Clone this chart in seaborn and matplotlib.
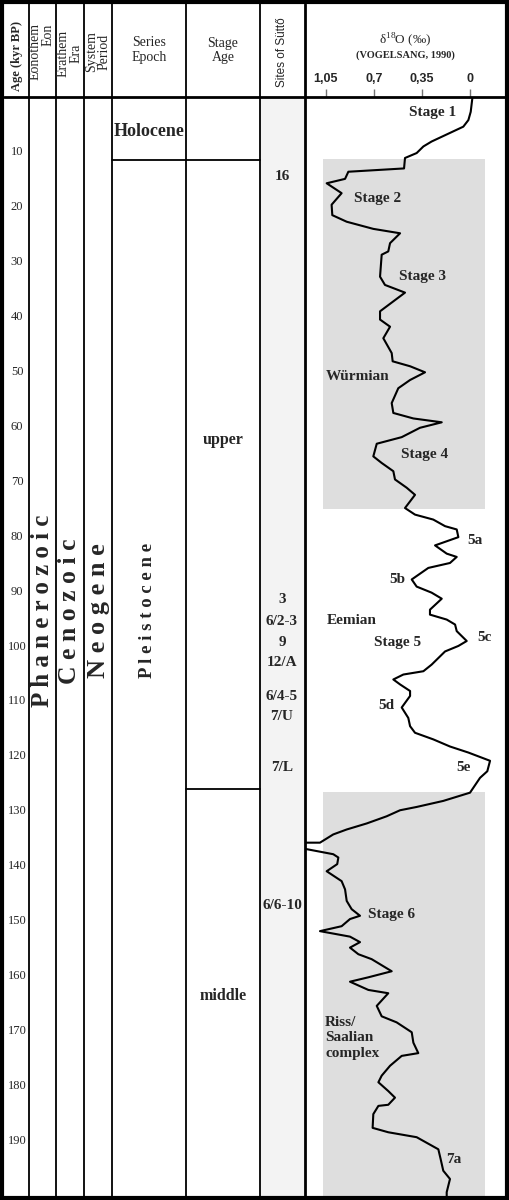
import matplotlib
matplotlib.use("Agg")
import matplotlib.pyplot as plt
import seaborn as sns
import pandas as pd

# --- data -------------------------------------------------------------
# oxygen isotope curve (Vogelsang 1990), age in kyr BP vs d18O (permil)
age_kyr = [0.2, 2.7, 4.2, 5.4, 6.1, 7.1, 8.1, 9.0, 10.2, 11.1, 13.0, 13.6, 14.9, 15.7,
           17.5, 19.6, 21.5, 22.7, 24.0, 24.8, 26.6, 28.1, 28.7, 32.7, 34.2, 35.6, 39.0,
           40.5, 41.8, 43.9, 46.6, 48.1, 49.0, 50.1, 51.5, 53.0, 55.7, 57.5, 58.5, 59.2,
           60.2, 61.9, 63.1, 65.4, 66.6, 68.1, 69.6, 71.1, 72.4, 73.6, 74.8, 76.0, 76.9,
           78.1, 78.7, 80.1, 81.6, 83.1, 83.7, 84.8, 85.7, 87.8, 89.1, 90.2, 91.3, 93.3,
           94.2, 95.1, 96.0, 97.2, 99.0, 99.9, 100.9, 103.3, 104.5, 105.1, 106.0, 106.9,
           108.1, 109.0, 111.1, 113.0, 114.5, 115.7, 116.9, 118.2, 119.3, 120.8, 122.7,
           123.9, 126.6, 128.1, 129.2, 129.8, 130.9, 132.2, 133.3, 134.2, 135.7, 135.7,
           136.6, 137.8, 138.4, 139.6, 140.9, 142.7, 144.2, 146.3, 147.8, 149.0, 149.6,
           150.9, 151.8, 152.8, 153.8, 154.8, 156.0, 156.9, 159.1, 160.2, 161.0, 162.5,
           163.1, 165.4, 167.3, 168.4, 170.2, 172.1, 174.0, 174.5, 176.3, 178.1, 179.3,
           180.9, 182.1, 183.4, 183.6, 185.1, 187.6, 188.4, 189.3, 191.5, 193.3, 195.4,
           196.9, 199.3, 200.5]
d18o = [-0.017, -0.005, 0.012, 0.049, 0.109, 0.195, 0.28, 0.34, 0.389, 0.474, 0.481, 0.887,
        0.911, 1.045, 0.936, 1.009, 1.004, 0.899, 0.705, 0.51, 0.583, 0.596, 0.644, 0.656,
        0.62, 0.474, 0.656, 0.656, 0.583, 0.632, 0.571, 0.564, 0.437, 0.328, 0.437, 0.523,
        0.571, 0.559, 0.413, 0.206, 0.365, 0.498, 0.68, 0.705, 0.644, 0.559, 0.547, 0.462,
        0.401, 0.437, 0.474, 0.401, 0.268, 0.182, 0.097, 0.085, 0.255, 0.17, 0.097, 0.146,
        0.304, 0.425, 0.389, 0.28, 0.206, 0.292, 0.292, 0.17, 0.109, 0.097, 0.024, 0.085,
        0.182, 0.28, 0.34, 0.486, 0.559, 0.51, 0.437, 0.437, 0.498, 0.45, 0.437, 0.401,
        0.268, 0.146, 0.012, -0.146, -0.126, -0.073, 0.0, 0.195, 0.389, 0.51, 0.608, 0.753,
        0.899, 0.997, 1.094, 1.25, 1.25, 0.997, 0.96, 0.968, 1.045, 0.936, 0.911, 0.899,
        0.863, 0.802, 0.875, 0.936, 1.094, 0.875, 0.802, 0.875, 0.814, 0.717, 0.571, 0.741,
        0.875, 0.741, 0.596, 0.68, 0.644, 0.535, 0.425, 0.413, 0.377, 0.498, 0.583, 0.644,
        0.668, 0.596, 0.547, 0.596, 0.668, 0.705, 0.71, 0.596, 0.389, 0.231, 0.214, 0.195,
        0.146, 0.17, 0.17]

d18o_ticks = [1.05, 0.7, 0.35, 0]
d18o_tick_labels = ["1,05", "0,7", "0,35", "0"]
age_ticks = [10, 20, 30, 40, 50, 60, 70, 80, 90, 100, 110, 120, 130, 140, 150, 160, 170, 180, 190]

glacial_spans = [(11.3, 75.0), (126.4, 200.0)]
holocene_base = 11.5
upper_middle_boundary = 126.0

curve_labels = ["Stage 1", "Stage 2", "Stage 3", "Würmian", "Stage 4", "5a", "5b", "Eemian",
                "Stage 5", "5c", "5d", "5e", "Stage 6", "7a"]
curve_label_d18o = [0.27, 0.671, 0.343, 0.817, 0.328, -0.036, 0.532, 0.86, 0.525, -0.102,
                    0.613, 0.044, 0.569, 0.117]
curve_label_age = [2.9, 18.4, 32.7, 50.9, 65.1, 80.7, 87.8, 95.3, 99.2, 98.4, 110.8, 122.1,
                   148.8, 193.3]

sites = ["16", "3", "6/2-3", "9", "12/A", "6/4-5", "7/U", "7/L", "6/6-10"]
site_age = [14.5, 91.5, 95.5, 99.3, 102.9, 109.1, 112.7, 122.0, 147.1]

df = pd.DataFrame({"age": age_kyr, "d18o": d18o})

# --- figure -----------------------------------------------------------
sns.set_theme(style="white")
plt.rcParams["font.family"] = ["Liberation Serif", "DejaVu Serif"]
plt.rcParams["mathtext.fontset"] = "custom"
plt.rcParams["mathtext.rm"] = "Liberation Serif"

W, H = 509, 1200
TOP, BOT = 97, 1196
fig = plt.figure(figsize=(W / 100, H / 100), dpi=100)


def box(x0, y0, x1, y1):
    return [x0 / W, 1 - y1 / H, (x1 - x0) / W, (y1 - y0) / H]


# table body: x in pixels, y in kyr
tab = fig.add_axes(box(4, TOP, 305, BOT))
tab.set_xlim(4, 305)
tab.set_ylim(200, 0)
tab.axis("off")
tab.axvspan(260, 305, color="#f3f3f3", lw=0, zorder=0)

for a in age_ticks:
    tab.text(17, a, str(a), ha="center", va="center", fontsize=9)

tab.plot([112, 260], [holocene_base, holocene_base], color="black", lw=1.3)
tab.plot([186, 260], [upper_middle_boundary, upper_middle_boundary], color="black", lw=1.3)

tab.text(149, 6.2, "Holocene", ha="center", va="center", fontsize=13, fontweight="bold")
mid = 93.5
tab.text(43, mid, "P h a n e r o z o i c", rotation=90, ha="center", va="center",
         fontsize=18, fontweight="bold")
tab.text(70, mid, "C e n o z o i c", rotation=90, ha="center", va="center",
         fontsize=18.5, fontweight="bold")
tab.text(98, mid, "N e o g e n e", rotation=90, ha="center", va="center",
         fontsize=19, fontweight="bold")
tab.text(148, mid, "P l e i s t o c e n e", rotation=90, ha="center", va="center",
         fontsize=13.5, fontweight="bold")
tab.text(223, 62.4, "upper", ha="center", va="center", fontsize=11.5, fontweight="bold")
tab.text(223, 163.6, "middle", ha="center", va="center", fontsize=11.5, fontweight="bold")
for s, a in zip(sites, site_age):
    tab.text(282, a, s, ha="center", va="center", fontsize=11, fontweight="bold")

# isotope curve
ax = fig.add_axes(box(305, TOP, 505, BOT))
for a0, a1 in glacial_spans:
    ax.fill_betweenx([a0, a1], -0.109, 1.072, color="#dedede", lw=0, zorder=0)
sns.lineplot(data=df, x="d18o", y="age", sort=False, estimator=None, orient="y",
             color="black", lw=1.5, ax=ax)
ax.set_xlim(1.203, -0.255)
ax.set_ylim(200, 0)
ax.set_xlabel("")
ax.set_ylabel("")
ax.set_yticks([])
for sp in ax.spines.values():
    sp.set_visible(False)
ax.xaxis.tick_top()
ax.set_xticks(d18o_ticks)
ax.set_xticklabels(d18o_tick_labels, fontfamily="Liberation Sans", fontweight="bold", fontsize=9)
ax.tick_params(axis="x", top=True, bottom=False, direction="out", length=6, width=1,
               color="0.45", pad=3)
for t, x, y in zip(curve_labels, curve_label_d18o, curve_label_age):
    ax.text(x, y, t, ha="center", va="center", fontsize=11, fontweight="bold")
ax.text(1.057, 171.2, "Riss/\nSaalian\ncomplex", ha="left", va="center", fontsize=11,
        fontweight="bold", linespacing=1.25)

# overlay: frame, column rules and header
over = fig.add_axes([0, 0, 1, 1])
over.set_xlim(0, W)
over.set_ylim(H, 0)
over.axis("off")
over.patch.set_alpha(0)
for x in [29.5, 56, 84, 112, 186, 260]:
    over.plot([x, x], [4, BOT], color="black", lw=1.3)
over.plot([305, 305], [4, BOT], color="black", lw=2)
over.plot([4, 505], [TOP, TOP], color="black", lw=2)
over.add_patch(plt.Rectangle((2, 2), W - 4, H - 4, fill=False, ec="black", lw=3))

over.text(17, 56, "Age (kyr BP)", rotation=90, ha="center", va="center", fontsize=9,
          fontweight="bold")
over.text(42, 52, "Eonothem\nEon", rotation=90, ha="center", va="center", fontsize=10,
          multialignment="right", linespacing=1.0)
over.text(70, 53, "Erathem\nEra", rotation=90, ha="center", va="center", fontsize=10,
          linespacing=1.0)
over.text(98, 52, "System\nPeriod", rotation=90, ha="center", va="center", fontsize=10,
          linespacing=1.0)
over.text(149, 50, "Series\nEpoch", ha="center", va="center", fontsize=10, linespacing=1.1)
over.text(223, 50, "Stage\nAge", ha="center", va="center", fontsize=10, linespacing=1.1)
over.text(282, 52, "Sites of Süttő", rotation=90, ha="center", va="center", fontsize=8.5,
          fontfamily="Liberation Sans")
over.text(405, 40, r"δ$^{18}$O (‰)", ha="center", va="center", fontsize=9.5)
over.text(405, 55, "(VOGELSANG, 1990)", ha="center", va="center", fontsize=7.5,
          fontweight="bold")

fig.savefig("out.png", dpi=100)
